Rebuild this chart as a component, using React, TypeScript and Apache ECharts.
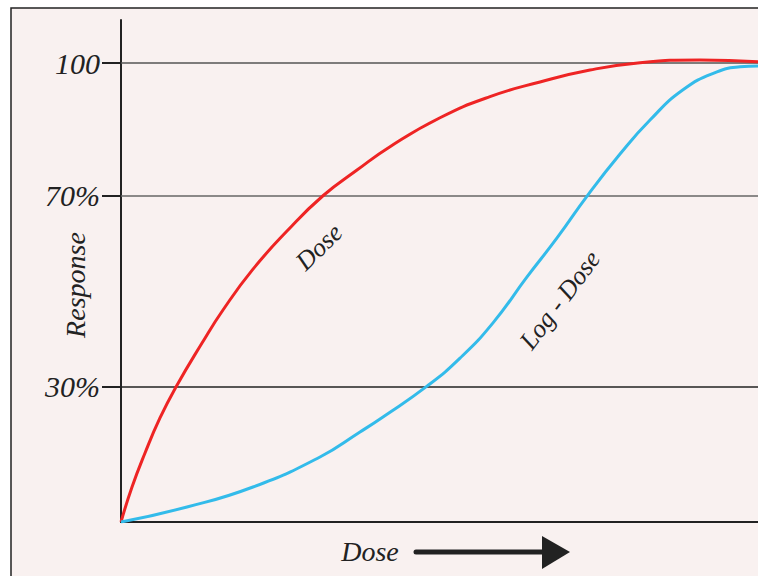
import React, { useEffect, useRef } from "react";
import * as echarts from "echarts";

// Dose axis runs 0..100 (arbitrary units), response in %
const doseCurveX = [0, 1.73, 3.77, 6.12, 8.63, 12.72, 16.01, 20.72, 26.06, 31.71, 37.05, 42.23, 50.08, 57.93, 65.78, 73.63, 81.48, 90.89, 100];
const doseCurveY = [0, 7.63, 15.04, 22.67, 29.43, 39.0, 46.2, 55.1, 63.4, 71.1, 76.7, 81.8, 88.1, 92.7, 95.9, 98.5, 100.1, 100.7, 100.3];

const logDoseCurveX = [0, 10.36, 20.72, 31.24, 37.52, 41.13, 48.04, 53.22, 58.4, 63.74, 68.45, 73.31, 78.34, 83.05, 88.23, 93.56, 97.17, 100];
const logDoseCurveY = [0, 3.27, 7.63, 14.17, 19.62, 22.9, 29.6, 35.7, 43.4, 53.4, 61.9, 71.3, 80.2, 87.6, 94.2, 98.1, 99.2, 99.4];

const yTickValues = [29.5, 71.2, 100];
const yTickLabels = ["30%", "70%", "100"];

const BG = "#f9f1f0";
const INK = "#222222";
const SCRIPT_FONT = "'Liberation Serif', 'DejaVu Serif', serif";
const gridLineColors = ["#222222", "#666666", "#555555"];

export default function App() {
  const ref = useRef<HTMLDivElement>(null);

  useEffect(() => {
    if (!ref.current) return;
    const chart = echarts.init(ref.current, null, { renderer: "svg" });
    const redData = doseCurveX.map((x, i) => [x, doseCurveY[i]]);
    const blueData = logDoseCurveX.map((x, i) => [x, logDoseCurveY[i]]);

    chart.setOption({
      animation: false,
      backgroundColor: "#ffffff",
      grid: { left: 121, right: 0, top: 20, bottom: 54, containLabel: false },
      xAxis: {
        type: "value",
        min: 0,
        max: 100,
        axisLine: { show: true, lineStyle: { color: INK, width: 2 } },
        axisTick: { show: false },
        axisLabel: { show: false },
        splitLine: { show: false },
      },
      yAxis: {
        type: "value",
        min: 0,
        max: 109.4,
        axisLine: { show: true, lineStyle: { color: INK, width: 2 } },
        axisTick: {
          show: true,
          customValues: yTickValues,
          length: 19,
          lineStyle: { color: INK, width: 2 },
        },
        axisLabel: {
          show: true,
          customValues: yTickValues,
          margin: 21,
          fontFamily: SCRIPT_FONT,
          fontStyle: "italic",
          fontSize: 30,
          color: INK,
          formatter: (v: number) => {
            const idx = yTickValues.findIndex((t) => Math.abs(t - v) < 0.01);
            return idx >= 0 ? yTickLabels[idx] : "";
          },
        },
        splitLine: { show: false },
      },
      graphic: [
        {
          type: "rect",
          z: -100,
          silent: true,
          shape: { x: 11, y: 8, width: 900, height: 700 },
          style: { fill: BG, stroke: INK, lineWidth: 1.5 },
        },
        {
          type: "text",
          x: 75,
          y: 285,
          rotation: Math.PI / 2,
          style: {
            text: "Response",
            font: `italic 28px ${SCRIPT_FONT}`,
            fill: INK,
            align: "center",
            verticalAlign: "middle",
          },
        },
        {
          type: "text",
          x: 370,
          y: 551,
          style: {
            text: "Dose",
            font: `italic 28px ${SCRIPT_FONT}`,
            fill: INK,
            align: "center",
            verticalAlign: "middle",
          },
        },
        {
          type: "line",
          shape: { x1: 416, y1: 552, x2: 545, y2: 552 },
          style: { stroke: INK, lineWidth: 5, lineCap: "round" },
        },
        {
          type: "polygon",
          shape: { points: [[542, 536], [570, 552], [542, 569]] },
          style: { fill: INK },
        },
        {
          type: "text",
          x: 319,
          y: 247,
          rotation: (44 * Math.PI) / 180,
          style: {
            text: "Dose",
            font: `italic 26px ${SCRIPT_FONT}`,
            fill: INK,
            align: "center",
            verticalAlign: "middle",
          },
        },
        {
          type: "text",
          x: 560,
          y: 300,
          rotation: (53 * Math.PI) / 180,
          style: {
            text: "Log - Dose",
            font: `italic 26px ${SCRIPT_FONT}`,
            fill: INK,
            align: "center",
            verticalAlign: "middle",
          },
        },
      ],
      series: [
        {
          type: "line",
          name: "Dose",
          data: redData,
          smooth: 0.5,
          showSymbol: false,
          lineStyle: { color: "#ee2424", width: 3 },
          z: 3,
          markLine: {
            silent: true,
            symbol: "none",
            label: { show: false },
            lineStyle: { width: 1.5, type: "solid" },
            data: yTickValues.map((v, i) => ({
              yAxis: v,
              lineStyle: { color: gridLineColors[i], width: 1.5, type: "solid" },
            })),
            z: 1,
          },
        },
        {
          type: "line",
          name: "Log-Dose",
          data: blueData,
          smooth: 0.5,
          showSymbol: false,
          lineStyle: { color: "#33bbea", width: 3 },
          z: 3,
        },
      ],
    });
    return () => chart.dispose();
  }, []);

  return (
    <div
      ref={ref}
      style={{ position: "absolute", left: 0, top: 0, width: 758, height: 576 }}
    />
  );
}
